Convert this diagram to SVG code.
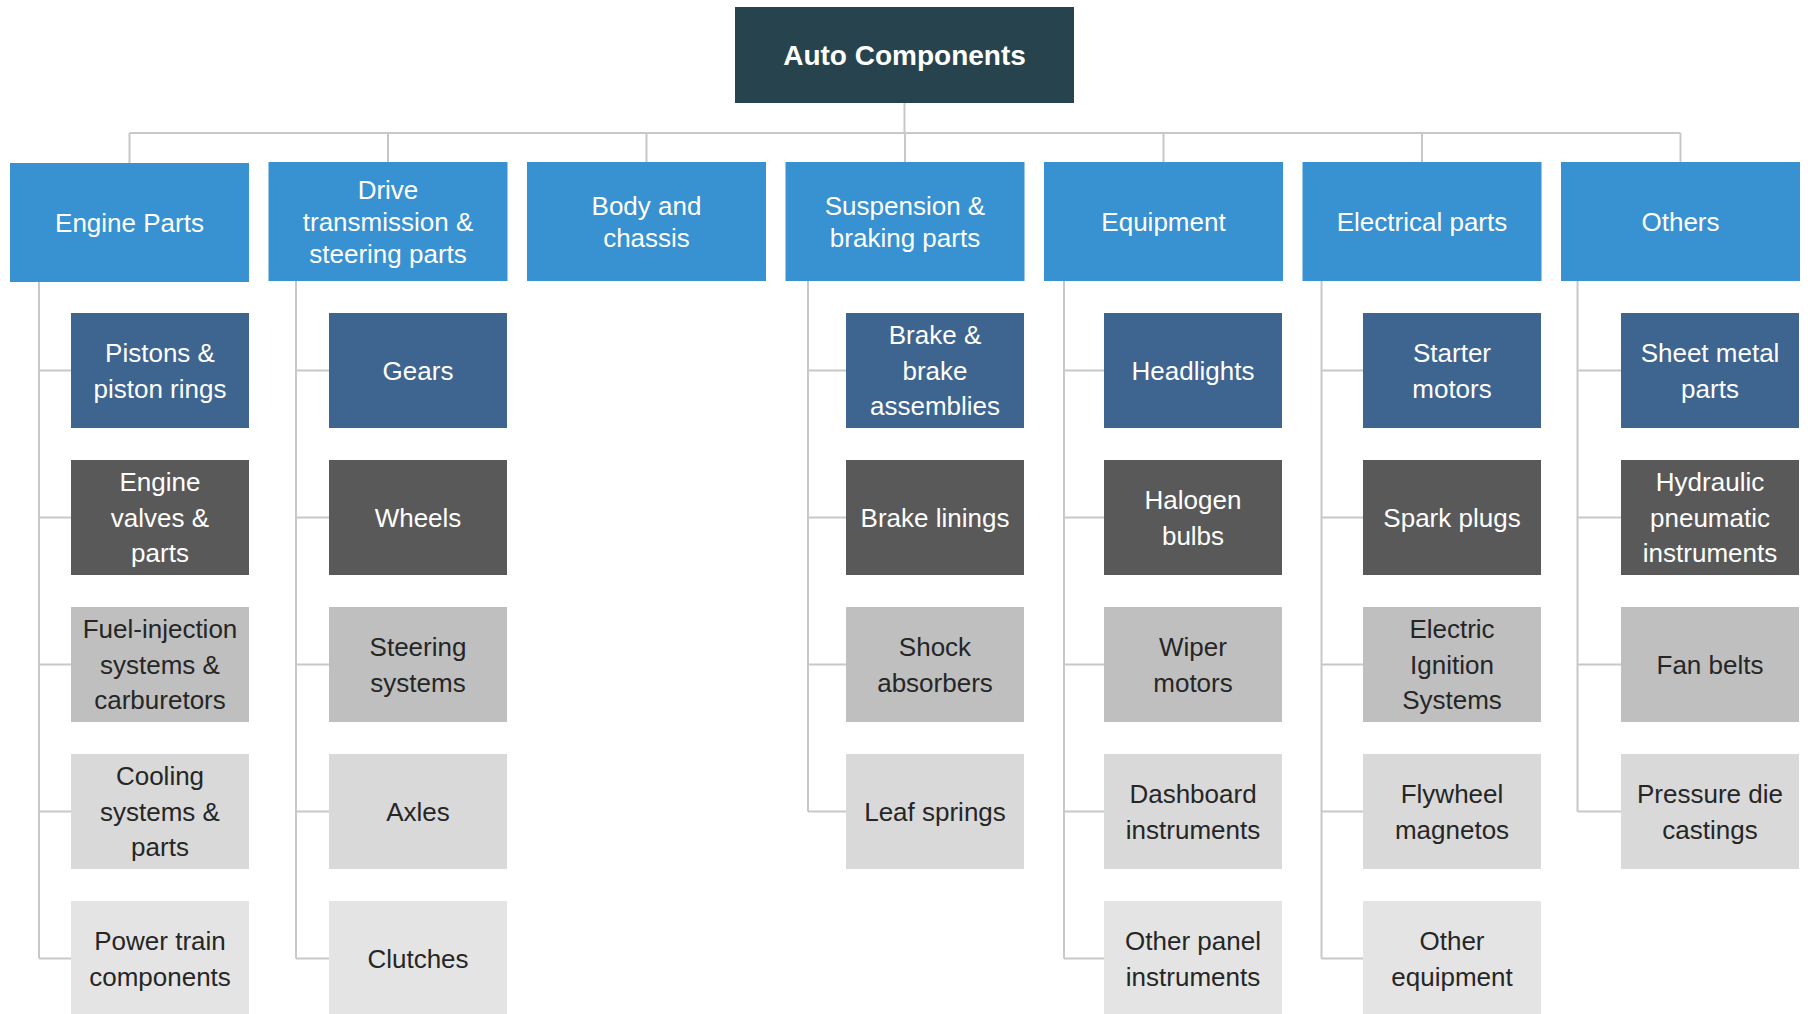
<svg xmlns="http://www.w3.org/2000/svg" width="1808" height="1014" viewBox="0 0 1808 1014">
<style>
text{font-family:"Liberation Sans",Arial,sans-serif;font-size:26px;text-anchor:middle}
.root{fill:#27444E}
.rt{fill:#fff;font-weight:bold;font-size:28px}
.par{fill:#3891D0}
.pt{fill:#fff}
.r0{fill:#3E6490}.r1{fill:#595959}.r2{fill:#BFBFBF}.r3{fill:#D9D9D9}.r4{fill:#E4E4E4}
.w{fill:#fff}.d{fill:#262626}
.c{fill:none;stroke:#C8C8C8;stroke-width:2}
</style>
<rect width="1808" height="1014" fill="#fff"/>
<g id="connectors">
<path class="c" d="M904.5,103V133M129.5,133H1680.5M129.5,133V163M388,133V162M646.5,133V162M905,133V162M1163.5,133V162M1422,133V162M1680.5,133V162"/>
<path class="c" d="M39,282V958.5M39,370.5H71M39,517.5H71M39,664.5H71M39,811.5H71M39,958.5H71"/>
<path class="c" d="M296,281V958.5M296,370.5H329M296,517.5H329M296,664.5H329M296,811.5H329M296,958.5H329"/>
<path class="c" d="M808,281V811.5M808,370.5H846M808,517.5H846M808,664.5H846M808,811.5H846"/>
<path class="c" d="M1064,281V958.5M1064,370.5H1104M1064,517.5H1104M1064,664.5H1104M1064,811.5H1104M1064,958.5H1104"/>
<path class="c" d="M1321.5,281V958.5M1321.5,370.5H1363M1321.5,517.5H1363M1321.5,664.5H1363M1321.5,811.5H1363M1321.5,958.5H1363"/>
<path class="c" d="M1577.5,281V811.5M1577.5,370.5H1621M1577.5,517.5H1621M1577.5,664.5H1621M1577.5,811.5H1621"/>
</g>
<g id="root"><rect class="root" x="735" y="7" width="339" height="96"/><text class="rt" x="904.5" y="65">Auto Components</text></g>

<g id="p-engine"><rect class="par" x="10" y="163" width="239" height="119"/><text class="pt" x="129.5" y="231.5">Engine Parts</text></g>
<g id="p-drive"><rect class="par" x="268.5" y="162" width="239" height="119"/><text class="pt" x="388"><tspan x="388" y="198.5">Drive</tspan><tspan x="388" y="230.8">transmission &amp;</tspan><tspan x="388" y="263.1">steering parts</tspan></text></g>
<g id="p-body"><rect class="par" x="527" y="162" width="239" height="119"/><text class="pt"><tspan x="646.5" y="214.6">Body and</tspan><tspan x="646.5" y="246.8">chassis</tspan></text></g>
<g id="p-susp"><rect class="par" x="785.5" y="162" width="239" height="119"/><text class="pt"><tspan x="905" y="214.6">Suspension &amp;</tspan><tspan x="905" y="246.8">braking parts</tspan></text></g>
<g id="p-equip"><rect class="par" x="1044" y="162" width="239" height="119"/><text class="pt" x="1163.5" y="230.8">Equipment</text></g>
<g id="p-elec"><rect class="par" x="1302.5" y="162" width="239" height="119"/><text class="pt" x="1422" y="230.8">Electrical parts</text></g>
<g id="p-others"><rect class="par" x="1561" y="162" width="239" height="119"/><text class="pt" x="1680.5" y="230.8">Others</text></g>

<!-- Engine -->
<g id="c-pistons"><rect class="r0" x="71" y="313" width="178" height="115"/><text class="w"><tspan x="160" y="362">Pistons &amp;</tspan><tspan x="160" y="397.5">piston rings</tspan></text></g>
<g id="c-valves"><rect class="r1" x="71" y="460" width="178" height="115"/><text class="w"><tspan x="160" y="491.3">Engine</tspan><tspan x="160" y="526.8">valves &amp;</tspan><tspan x="160" y="562.3">parts</tspan></text></g>
<g id="c-fuel"><rect class="r2" x="71" y="607" width="178" height="115"/><text class="d"><tspan x="160" y="638.3">Fuel-injection</tspan><tspan x="160" y="673.8">systems &amp;</tspan><tspan x="160" y="709.3">carburetors</tspan></text></g>
<g id="c-cooling"><rect class="r3" x="71" y="754" width="178" height="115"/><text class="d"><tspan x="160" y="785.3">Cooling</tspan><tspan x="160" y="820.8">systems &amp;</tspan><tspan x="160" y="856.3">parts</tspan></text></g>
<g id="c-power"><rect class="r4" x="71" y="901" width="178" height="115"/><text class="d"><tspan x="160" y="950">Power train</tspan><tspan x="160" y="985.5">components</tspan></text></g>

<!-- Drive -->
<g id="c-gears"><rect class="r0" x="329" y="313" width="178" height="115"/><text class="w" x="418" y="379.8">Gears</text></g>
<g id="c-wheels"><rect class="r1" x="329" y="460" width="178" height="115"/><text class="w" x="418" y="526.8">Wheels</text></g>
<g id="c-steering"><rect class="r2" x="329" y="607" width="178" height="115"/><text class="d"><tspan x="418" y="656">Steering</tspan><tspan x="418" y="691.5">systems</tspan></text></g>
<g id="c-axles"><rect class="r3" x="329" y="754" width="178" height="115"/><text class="d" x="418" y="820.8">Axles</text></g>
<g id="c-clutches"><rect class="r4" x="329" y="901" width="178" height="115"/><text class="d" x="418" y="967.8">Clutches</text></g>

<!-- Suspension -->
<g id="c-brake"><rect class="r0" x="846" y="313" width="178" height="115"/><text class="w"><tspan x="935" y="344.3">Brake &amp;</tspan><tspan x="935" y="379.8">brake</tspan><tspan x="935" y="415.3">assemblies</tspan></text></g>
<g id="c-linings"><rect class="r1" x="846" y="460" width="178" height="115"/><text class="w" x="935" y="526.8">Brake linings</text></g>
<g id="c-shock"><rect class="r2" x="846" y="607" width="178" height="115"/><text class="d"><tspan x="935" y="656">Shock</tspan><tspan x="935" y="691.5">absorbers</tspan></text></g>
<g id="c-leaf"><rect class="r3" x="846" y="754" width="178" height="115"/><text class="d" x="935" y="820.8">Leaf springs</text></g>

<!-- Equipment -->
<g id="c-headlights"><rect class="r0" x="1104" y="313" width="178" height="115"/><text class="w" x="1193" y="379.8">Headlights</text></g>
<g id="c-halogen"><rect class="r1" x="1104" y="460" width="178" height="115"/><text class="w"><tspan x="1193" y="509">Halogen</tspan><tspan x="1193" y="544.5">bulbs</tspan></text></g>
<g id="c-wiper"><rect class="r2" x="1104" y="607" width="178" height="115"/><text class="d"><tspan x="1193" y="656">Wiper</tspan><tspan x="1193" y="691.5">motors</tspan></text></g>
<g id="c-dashboard"><rect class="r3" x="1104" y="754" width="178" height="115"/><text class="d"><tspan x="1193" y="803">Dashboard</tspan><tspan x="1193" y="838.5">instruments</tspan></text></g>
<g id="c-otherpanel"><rect class="r4" x="1104" y="901" width="178" height="115"/><text class="d"><tspan x="1193" y="950">Other panel</tspan><tspan x="1193" y="985.5">instruments</tspan></text></g>

<!-- Electrical -->
<g id="c-starter"><rect class="r0" x="1363" y="313" width="178" height="115"/><text class="w"><tspan x="1452" y="362">Starter</tspan><tspan x="1452" y="397.5">motors</tspan></text></g>
<g id="c-spark"><rect class="r1" x="1363" y="460" width="178" height="115"/><text class="w" x="1452" y="526.8">Spark plugs</text></g>
<g id="c-ignition"><rect class="r2" x="1363" y="607" width="178" height="115"/><text class="d"><tspan x="1452" y="638.3">Electric</tspan><tspan x="1452" y="673.8">Ignition</tspan><tspan x="1452" y="709.3">Systems</tspan></text></g>
<g id="c-flywheel"><rect class="r3" x="1363" y="754" width="178" height="115"/><text class="d"><tspan x="1452" y="803">Flywheel</tspan><tspan x="1452" y="838.5">magnetos</tspan></text></g>
<g id="c-otherequip"><rect class="r4" x="1363" y="901" width="178" height="115"/><text class="d"><tspan x="1452" y="950">Other</tspan><tspan x="1452" y="985.5">equipment</tspan></text></g>

<!-- Others -->
<g id="c-sheet"><rect class="r0" x="1621" y="313" width="178" height="115"/><text class="w"><tspan x="1710" y="362">Sheet metal</tspan><tspan x="1710" y="397.5">parts</tspan></text></g>
<g id="c-hydraulic"><rect class="r1" x="1621" y="460" width="178" height="115"/><text class="w"><tspan x="1710" y="491.3">Hydraulic</tspan><tspan x="1710" y="526.8">pneumatic</tspan><tspan x="1710" y="562.3">instruments</tspan></text></g>
<g id="c-fanbelts"><rect class="r2" x="1621" y="607" width="178" height="115"/><text class="d" x="1710" y="673.8">Fan belts</text></g>
<g id="c-pressure"><rect class="r3" x="1621" y="754" width="178" height="115"/><text class="d"><tspan x="1710" y="803">Pressure die</tspan><tspan x="1710" y="838.5">castings</tspan></text></g>
</svg>
